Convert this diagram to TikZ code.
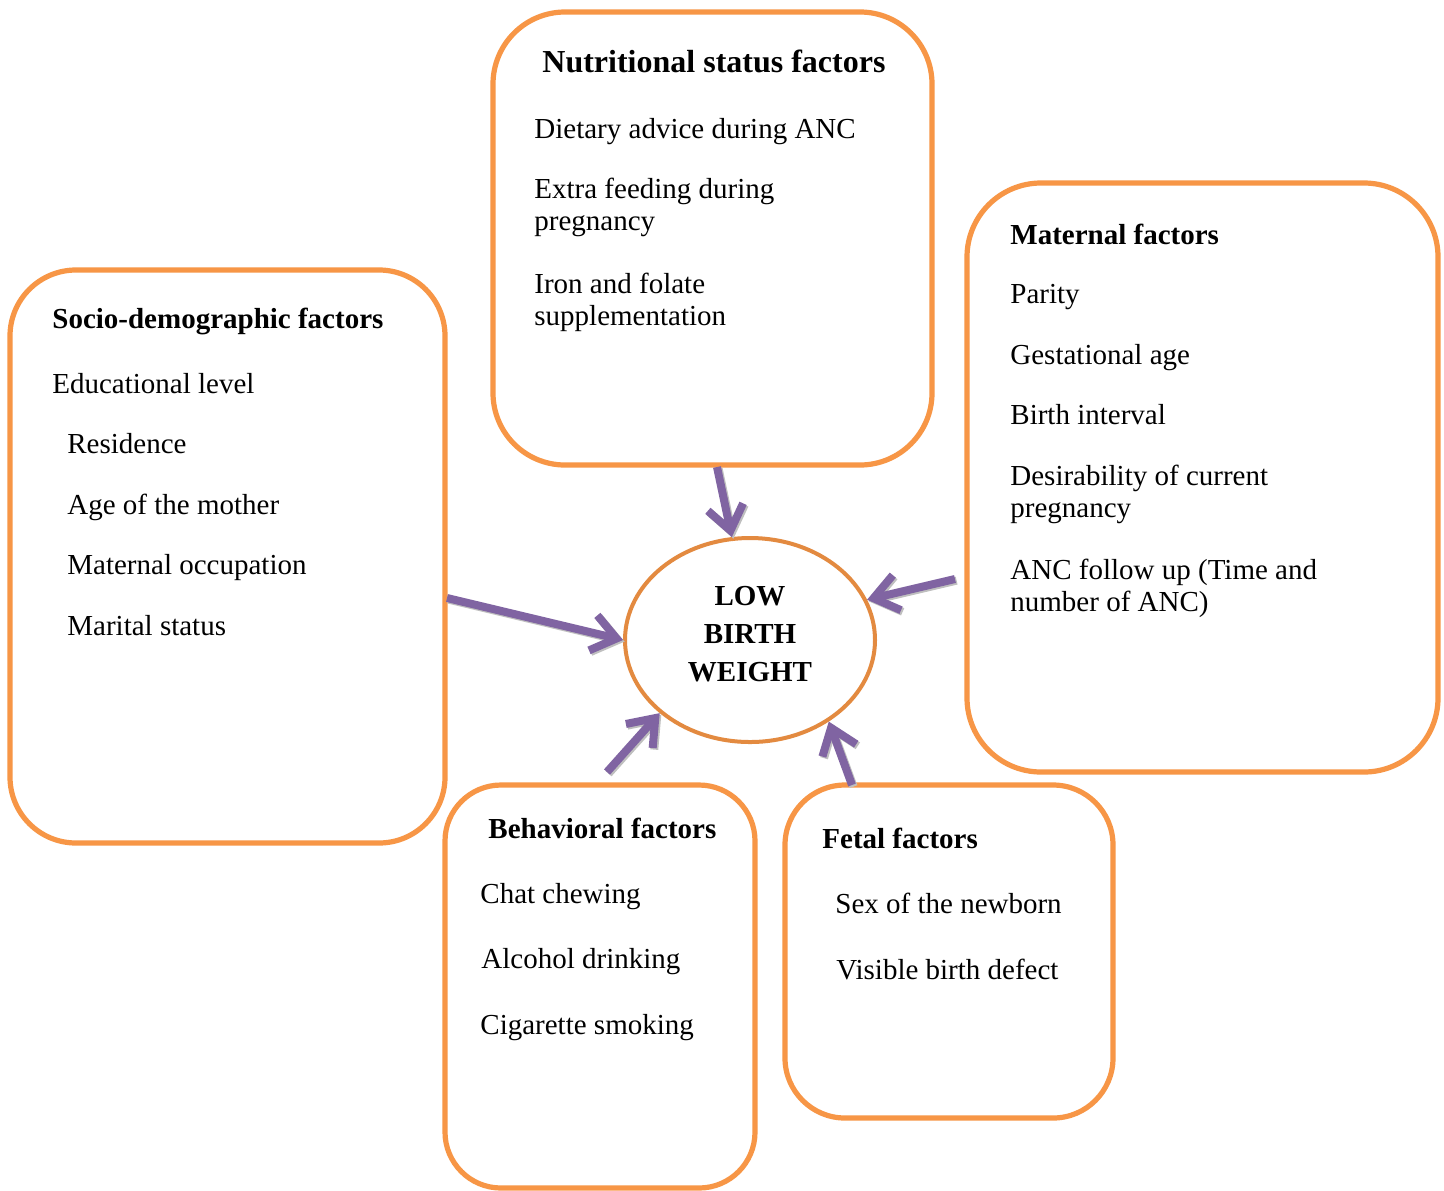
\documentclass[tikz,border=0pt]{standalone}
\usepackage{fontspec}
\setmainfont{Liberation Serif}
\usetikzlibrary{shapes.geometric,arrows.meta}
\definecolor{boxorange}{HTML}{F79646}
\definecolor{arrpurple}{HTML}{8064A2}
\tikzset{
  factorbox/.style={draw=boxorange, line width=2.6pt, rectangle, anchor=north west, inner sep=0pt, outer sep=0pt},
  txt/.style={anchor=base west, inner sep=0pt, font=\fontsize{14.5}{16}\selectfont},
  ttl/.style={txt, font=\fontsize{14.5}{16}\selectfont\bfseries},
  bigttl/.style={txt, font=\fontsize{16}{18}\selectfont\bfseries},
  ctr/.style={anchor=base, inner sep=0pt, font=\fontsize{14.5}{16}\selectfont\bfseries},
  arr/.style={draw=arrpurple, line width=4pt, -{Straight Barb[length=12pt,width=18pt,line width=4pt]},
    preaction={draw=black!25, line width=4pt, -{Straight Barb[length=12pt,width=18pt,line width=4pt]}, transform canvas={shift={(0.8pt,-0.8pt)}}}}
}
\begin{document}
\begin{tikzpicture}[x=0.5pt,y=-0.5pt]
\useasboundingbox[fill=white] (0,0) rectangle (1444,1190);

% boxes
\node[factorbox, rounded corners=36pt, minimum width=219.5pt, minimum height=226.5pt] (nut) at (493,12) {};
\node[factorbox, rounded corners=33pt, minimum width=217.5pt, minimum height=286.5pt] (soc) at (10,270) {};
\node[factorbox, rounded corners=37pt, minimum width=235.5pt, minimum height=294.5pt] (mat) at (967,183) {};
\node[factorbox, rounded corners=28pt, minimum width=155pt, minimum height=201.5pt] (beh) at (445,785) {};
\node[factorbox, rounded corners=30pt, minimum width=164pt, minimum height=166.5pt] (fet) at (785,785) {};

% central ellipse
\node[ellipse, draw=boxorange!92!black, line width=2pt, minimum width=125pt, minimum height=102pt, inner sep=0pt] (lbw) at (750,640) {};
\node[ctr] (lbw1) at (750,605) {LOW};
\node[ctr] (lbw2) at (750,643) {BIRTH};
\node[ctr] (lbw3) at (750,681) {WEIGHT};

% nutritional
\node[bigttl] (n0) at (542,72) {Nutritional status factors};
\node[txt] (n1) at (534,138) {Dietary advice during ANC};
\node[txt] (n2) at (534,198) {Extra feeding during};
\node[txt] (n3) at (534,230) {pregnancy};
\node[txt] (n4) at (534,293) {Iron and folate};
\node[txt] (n5) at (534,325) {supplementation};

% socio-demographic
\node[ttl] (s0) at (52,328) {Socio-demographic factors};
\node[txt] (s1) at (52,393) {Educational level};
\node[txt] (s2) at (67,453) {Residence};
\node[txt] (s3) at (67,514) {Age of the mother};
\node[txt] (s4) at (67,574) {Maternal occupation};
\node[txt] (s5) at (67,635) {Marital status};

% maternal
\node[ttl] (m0) at (1010,244) {Maternal factors};
\node[txt] (m1) at (1010,303) {Parity};
\node[txt] (m2) at (1010,364) {Gestational age};
\node[txt] (m3) at (1010,424) {Birth interval};
\node[txt] (m4) at (1010,485) {Desirability of current};
\node[txt] (m5) at (1010,517) {pregnancy};
\node[txt] (m6) at (1010,579) {ANC follow up (Time and};
\node[txt] (m7) at (1010,611) {number of ANC)};

% behavioral
\node[ttl] (b0) at (488,838) {Behavioral factors};
\node[txt] (b1) at (480,903) {Chat chewing};
\node[txt] (b2) at (481,968) {Alcohol drinking};
\node[txt] (b3) at (480,1034) {Cigarette smoking};

% fetal
\node[ttl] (f0) at (822,848) {Fetal factors};
\node[txt] (f1) at (835,913) {Sex of the newborn};
\node[txt] (f2) at (836,979) {Visible birth defect};

% arrow start points
\coordinate (an) at (717,467);
\coordinate (as) at (447,598);
\coordinate (am) at (955,579);
\coordinate (ab) at (607,772);
\coordinate (af) at (852,785);

\draw[arr] (an) -- (lbw.100);
\draw[arr] (as) -- (lbw.west);
\draw[arr] (am) -- (lbw.19);
\draw[arr] (ab) -- (lbw.219);
\draw[arr] (af) -- (lbw.314);
\end{tikzpicture}
\end{document}
